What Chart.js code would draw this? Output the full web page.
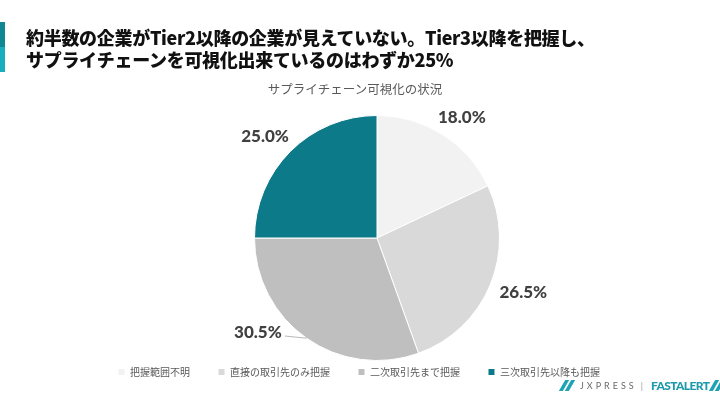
<!DOCTYPE html>
<html lang="ja">
<head>
<meta charset="utf-8">
<script src="https://cdn.jsdelivr.net/npm/chart.js@4"></script>
<style>
  html, body { margin: 0; padding: 0; background: #fff; }
  #wrap { position: relative; width: 720px; height: 405px; overflow: hidden; font-family: "Noto Sans CJK JP", "Noto Sans", sans-serif; }
  #chartBox { position: absolute; left: 0; top: 0; width: 720px; height: 405px; }
  .bar1 { position: absolute; left: 0; top: 22px; width: 5px; height: 25px; background: #0f8894; }
  .bar2 { position: absolute; left: 0; top: 47px; width: 5px; height: 25px; background: #19adbd; }
  #title { position: absolute; left: 26px; top: 26px; font-size: 18px; font-weight: 900; line-height: 22px; color: #111; letter-spacing: -0.3px; }
  #subtitle { position: absolute; left: 0; width: 710px; top: 79px; text-align: center; font-size: 12.5px; color: #595959; }
  #logo { position: absolute; left: 562px; top: 378px; height: 14px; display: flex; align-items: center; font-family: Lato, "Noto Sans", sans-serif; }
  .ico { display: inline-block; width: 4px; height: 11px; background: #1ea3b3; transform: skewX(-30deg); margin-right: 2px; }
  .jx { color: #6a6a6a; font-size: 9px; letter-spacing: 3px; margin-left: 6px; }
  .sep { color: #999; font-size: 9px; margin: 0 8px 0 4px; }
  .fa { color: #1d9aab; font-size: 12px; font-weight: 900; letter-spacing: -0.6px; margin-right: 3px; }
</style>
</head>
<body>
<div id="wrap">
  <div id="chartBox"><canvas id="pieChart"></canvas></div>
  <div class="bar1"></div><div class="bar2"></div>
  <div id="title">約半数の企業がTier2以降の企業が見えていない。Tier3以降を把握し、<br>サプライチェーンを可視化出来ているのはわずか25%</div>
  <div id="subtitle">サプライチェーン可視化の状況</div>
  <div id="logo"><span class="ico"></span><span class="ico"></span><span class="jx">JXPRESS</span><span class="sep">|</span><span class="fa">FASTALERT</span><span class="ico"></span><span class="ico"></span></div>
</div>
<script>
const categories = ['把握範囲不明', '直接の取引先のみ把握', '二次取引先まで把握', '三次取引先以降も把握'];
const shares = [18.0, 26.5, 30.5, 25.0];
const sliceColors = ['#f2f2f2', '#d9d9d9', '#bfbfbf', '#0c7a89'];

// percentage labels outside the slices, pulled up with a leader line if they would hit the legend
const outsideLabels = {
    id: 'outsideLabels',
    afterDatasetsDraw(chart) {
        const { ctx, chartArea } = chart;
        const meta = chart.getDatasetMeta(0);
        ctx.save();
        ctx.font = '900 17px Lato, "Noto Sans", sans-serif';
        ctx.fillStyle = '#404040';
        ctx.textAlign = 'center';
        ctx.textBaseline = 'middle';
        meta.data.forEach((arc, i) => {
            const mid = (arc.startAngle + arc.endAngle) / 2;
            const dx = Math.cos(mid), dy = Math.sin(mid);
            const text = shares[i].toFixed(1) + '%';
            const w = ctx.measureText(text).width, h = 17;
            const R = arc.outerRadius + 12;
            let x = arc.x + R * dx + (w / 2) * dx;
            let y = arc.y + R * dy + (h / 2) * dy;
            const maxY = chartArea.bottom - 28;
            if (y > maxY) {
                y = maxY;
                const off = Math.sqrt(Math.max(R * R - (y - arc.y) * (y - arc.y), 0));
                const s = dx < 0 ? -1 : 1;
                x = arc.x + s * (off + w / 2);
                ctx.strokeStyle = '#a6a6a6';
                ctx.lineWidth = 0.8;
                ctx.beginPath();
                ctx.moveTo(x - s * (w / 2 + 3), y + 3);
                ctx.lineTo(arc.x + arc.outerRadius * dx, arc.y + arc.outerRadius * dy);
                ctx.stroke();
            }
            ctx.fillText(text, x, y);
        });
        ctx.restore();
    }
};

// tuck the legend row up close under the pie and a bit to the left
const legendShift = {
    id: 'legendShift',
    afterLayout(chart) {
        const lg = chart.legend;
        lg.top -= 22; lg.bottom -= 22;
        lg.left -= 18; lg.right -= 18;
    }
};

new Chart(document.getElementById('pieChart'), {
    type: 'pie',
    data: {
        labels: categories,
        datasets: [{
            data: shares,
            backgroundColor: sliceColors,
            borderColor: '#ffffff',
            borderWidth: 1
        }]
    },
    options: {
        responsive: true,
        maintainAspectRatio: false,
        animation: false,
        layout: {
            padding: { top: 115, bottom: -4, left: 100, right: 66 }
        },
        plugins: {
            tooltip: { enabled: false },
            legend: {
                position: 'bottom',
                labels: {
                    boxWidth: 7,
                    boxHeight: 7,
                    padding: 28,
                    color: '#595959',
                    font: { size: 10, family: '"Noto Sans CJK JP", sans-serif' }
                }
            }
        }
    },
    plugins: [outsideLabels, legendShift]
});
</script>
</body>
</html>
